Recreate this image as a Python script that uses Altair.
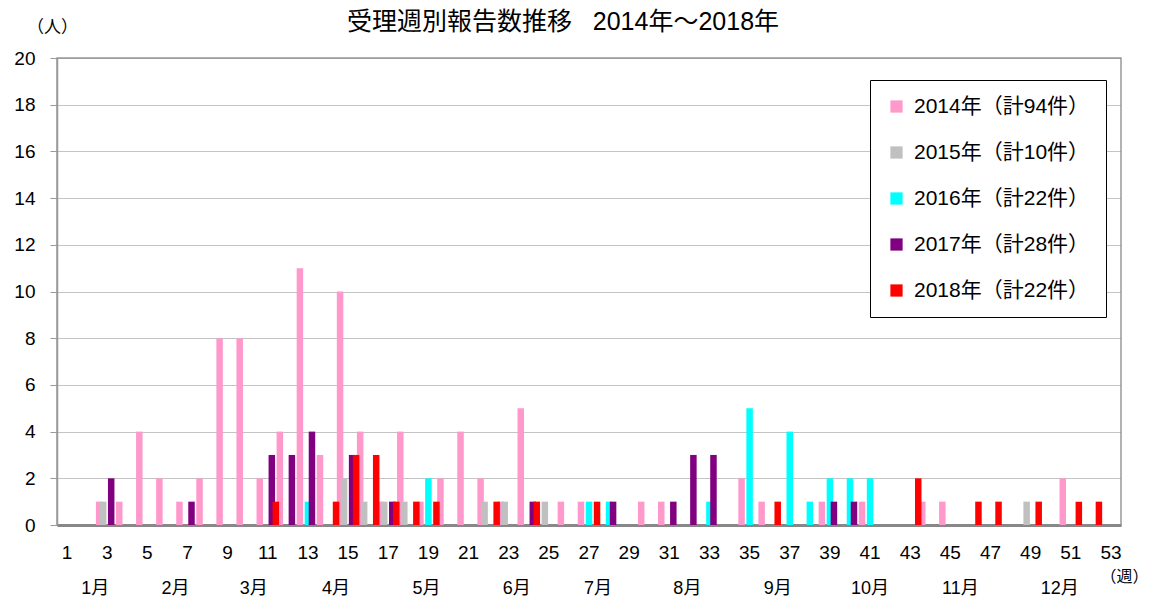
import altair as alt
import pandas as pd

# ---- data ----
weeks = list(range(1, 54))
years = ["2014", "2015", "2016", "2017", "2018"]
colors = ["#FF99CC", "#C0C0C0", "#00FFFF", "#800080", "#FF0000"]

counts_2014 = [0, 0, 1, 1, 4, 2, 1, 2, 8, 8,
               2, 4, 11, 3, 10, 4, 1, 4, 1, 2,
               4, 2, 1, 5, 0, 1, 1, 0, 0, 1,
               1, 0, 0, 0, 2, 1, 0, 0, 1, 0,
               1, 0, 0, 1, 1, 0, 0, 0, 0, 0,
               2, 0, 0]
counts_2015 = [0, 0, 1, 0, 0, 0, 0, 0, 0, 0,
               0, 0, 0, 0, 2, 1, 1, 1, 0, 0,
               0, 1, 1, 0, 1, 0, 0, 0, 0, 0,
               0, 0, 0, 0, 0, 0, 0, 0, 0, 0,
               0, 0, 0, 0, 0, 0, 0, 0, 1, 0,
               0, 0, 0]
counts_2016 = [0, 0, 0, 0, 0, 0, 0, 0, 0, 0,
               0, 0, 1, 0, 0, 0, 0, 0, 2, 0,
               0, 0, 0, 0, 0, 0, 1, 1, 0, 0,
               0, 0, 1, 0, 5, 0, 4, 1, 2, 2,
               2, 0, 0, 0, 0, 0, 0, 0, 0, 0,
               0, 0, 0]
counts_2017 = [0, 0, 2, 0, 0, 0, 1, 0, 0, 0,
               3, 3, 4, 0, 3, 0, 1, 0, 0, 0,
               0, 0, 0, 1, 0, 0, 0, 1, 0, 0,
               1, 3, 3, 0, 0, 0, 0, 0, 1, 1,
               0, 0, 0, 0, 0, 0, 0, 0, 0, 0,
               0, 0, 0]
counts_2018 = [0, 0, 0, 0, 0, 0, 0, 0, 0, 0,
               1, 0, 0, 1, 3, 3, 1, 1, 1, 0,
               0, 1, 0, 1, 0, 0, 1, 0, 0, 0,
               0, 0, 0, 0, 0, 1, 0, 0, 0, 0,
               0, 0, 2, 0, 0, 1, 1, 0, 1, 0,
               1, 1, 0]

week_tick_labels = list(range(1, 54, 2))
y_ticks = list(range(0, 21, 2))

month_names = ["1月", "2月", "3月", "4月", "5月", "6月",
               "7月", "8月", "9月", "10月", "11月", "12月"]
month_week_pos = [2.4, 6.4, 10.3, 14.4, 18.9, 23.4,
                  27.45, 31.9, 36.4, 41.0, 45.5, 50.45]

title_text = "受理週別報告数推移\u00a0\u00a0\u00a02014年～2018年"

# ---- build tables ----
series = [counts_2014, counts_2015, counts_2016, counts_2017, counts_2018]
labels = [f"{y}年（計{sum(v)}件）" for y, v in zip(years, series)]
rows = []
for lab, vals in zip(labels, series):
    for w, v in zip(weeks, vals):
        rows.append({"week": w, "count": v, "series": lab})
df = pd.DataFrame(rows)
mdf = pd.DataFrame({"month": month_names, "pos": month_week_pos})
tdf = pd.DataFrame({"title": [title_text]})

FONT = "Liberation Sans, Noto Sans CJK JP"

bars = alt.Chart(df).transform_filter("datum.count > 0").mark_bar(size=6.5).encode(
    x=alt.X("week:O",
            scale=alt.Scale(domain=weeks, paddingInner=0, paddingOuter=0),
            axis=alt.Axis(values=week_tick_labels, labelAngle=0, ticks=False,
                          labelPadding=18, labelFontSize=19, labelColor="#000",
                          domainColor="#888", domainWidth=3, grid=False,
                          title="（週）", titleFontSize=16, titleFontWeight="normal",
                          titleAlign="center", titleBaseline="middle",
                          titleX=1067, titleY=51, titleColor="#000")),
    xOffset=alt.XOffset("series:N",
                        scale=alt.Scale(domain=labels, paddingInner=0, paddingOuter=0)),
    y=alt.Y("count:Q",
            scale=alt.Scale(domain=[0, 20], nice=False),
            axis=alt.Axis(values=y_ticks, grid=True, gridColor="#888",
                          gridDash=[1, 1], gridWidth=1, tickSize=7,
                          tickColor="#999", domainColor="#999", domainWidth=1.5,
                          labelFontSize=19, labelPadding=15, labelColor="#000",
                          title="（人）", titleAngle=0, titleFontSize=17,
                          titleFontWeight="normal", titleAlign="center",
                          titleBaseline="middle", titleX=-5, titleY=-31,
                          titleColor="#000")),
    color=alt.Color("series:N",
                    scale=alt.Scale(domain=labels, range=colors),
                    legend=alt.Legend(title=None, orient="none", legendX=813,
                                      legendY=22, symbolType="square",
                                      symbolSize=150, symbolStrokeWidth=0,
                                      labelFontSize=21, labelColor="#000",
                                      labelLimit=400, labelOffset=7,
                                      rowPadding=24, padding=16,
                                      strokeColor="#000", fillColor="#fff")),
)

months = alt.Chart(mdf).mark_text(fontSize=18, baseline="middle", color="#000").encode(
    x=alt.X("pos:Q", scale=alt.Scale(domain=[0.5, 53.5], nice=False, zero=False),
            axis=None),
    y=alt.value(531),
    text="month:N",
)

title = alt.Chart(tdf).mark_text(fontSize=25, baseline="middle", align="center",
                                 color="#000").encode(
    x=alt.value(506),
    y=alt.value(-36),
    text="title:N",
)

chart = alt.layer(bars, months, title).resolve_scale(x="independent").properties(
    width=1064, height=467,
    autosize=alt.AutoSizeParams(type="none"),
    padding={"left": 49, "top": 50, "right": 28, "bottom": 73},
).configure(font=FONT).configure_view(stroke="#999", strokeWidth=1.5)

chart.save("out.html", embed_options={"renderer": "svg", "actions": False})
